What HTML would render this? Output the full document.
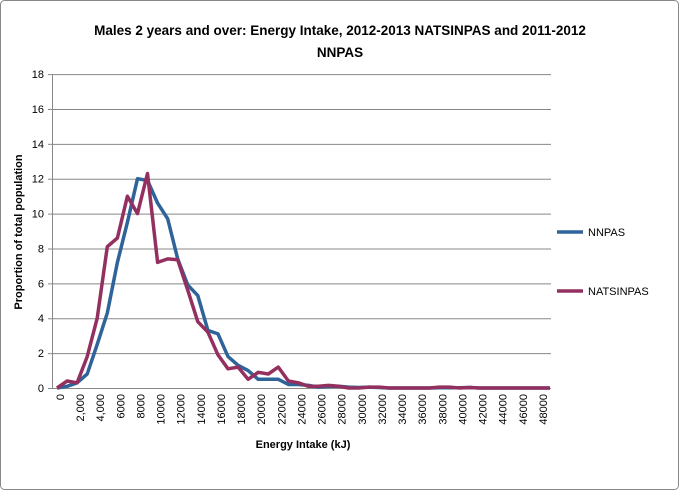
<!DOCTYPE html>
<html><head><meta charset="utf-8"><style>
html,body{margin:0;padding:0;background:#fff;}
svg{display:block;font-family:"Liberation Sans",Arial,sans-serif;}
</style></head><body>
<svg width="679" height="490" viewBox="0 0 679 490" xmlns="http://www.w3.org/2000/svg">
<rect x="0.5" y="0.5" width="678" height="489" rx="4" fill="#fff" stroke="#888"/>
<text x="340" y="35" text-anchor="middle" font-size="13.5" font-weight="bold">Males 2 years and over: Energy Intake, 2012-2013 NATSINPAS and 2011-2012</text>
<text x="340" y="57" text-anchor="middle" font-size="13.5" font-weight="bold">NNPAS</text>
<g id="grid" stroke="#888" stroke-width="1"></g>
<g id="yl" font-size="11" text-anchor="end"></g>
<g id="xl" font-size="11" text-anchor="end"></g>
<line x1="52.5" y1="74" x2="52.5" y2="388" stroke="#888"/>
<line x1="52" y1="388.5" x2="551" y2="388.5" stroke="#888"/>
<polyline id="nn" fill="none" stroke="#2E6499" stroke-width="3.5" stroke-linejoin="round"/>
<polyline id="na" fill="none" stroke="#94305F" stroke-width="3.5" stroke-linejoin="round"/>
<text transform="translate(22,232) rotate(-90)" text-anchor="middle" font-size="11" font-weight="bold">Proportion of total population</text>
<text x="303" y="448" text-anchor="middle" font-size="11" font-weight="bold">Energy Intake (kJ)</text>
<line x1="557" y1="232" x2="583" y2="232" stroke="#2E6499" stroke-width="3.5"/>
<text x="588" y="236" font-size="11">NNPAS</text>
<line x1="557" y1="291" x2="583" y2="291" stroke="#94305F" stroke-width="3.5"/>
<text x="588" y="295" font-size="11">NATSINPAS</text>
</svg>
<script>
var ns="http://www.w3.org/2000/svg";
function Y(v){return 388-v*17.44;}
function X(i){return 57+i*10.06;}
var g=document.getElementById('grid'),yl=document.getElementById('yl'),xl=document.getElementById('xl');
for(var v=0;v<=18;v+=2){
 if(v>0){var l=document.createElementNS(ns,'line');l.setAttribute('x1',52);l.setAttribute('x2',551);l.setAttribute('y1',Y(v)+0.5);l.setAttribute('y2',Y(v)+0.5);g.appendChild(l);}
 var t=document.createElementNS(ns,'text');t.setAttribute('x',44);t.setAttribute('y',Y(v)+4);t.textContent=v;yl.appendChild(t);
 var tk=document.createElementNS(ns,'line');tk.setAttribute('x1',48);tk.setAttribute('x2',52);tk.setAttribute('y1',Y(v)+0.5);tk.setAttribute('y2',Y(v)+0.5);g.appendChild(tk);
}
for(var k=0;k<=24;k++){
 var v=k*2000;var s=(k>=1&&k<=2)?v.toLocaleString('en-US'):(k==2?'4,000':String(v));
 if(k==1)s='2,000';if(k==2)s='4,000';
 var x=X(k*2)+4+3;
 var t=document.createElementNS(ns,'text');t.setAttribute('transform','translate('+x+',394) rotate(-90)');t.textContent=s;xl.appendChild(t);
}
var nn=[0,0.1,0.3,0.8,2.5,4.3,7.2,9.5,12.0,11.9,10.6,9.7,7.4,5.9,5.3,3.3,3.1,1.8,1.3,1.0,0.5,0.5,0.5,0.2,0.2,0.15,0.05,0.1,0.1,0.05,0.03,0.05,0.03,0,0,0,0,0,0.02,0.02,0.02,0.03,0,0,0,0,0,0,0,0];
var na=[0,0.4,0.3,1.8,4.0,8.1,8.6,11.0,10.0,12.3,7.2,7.4,7.35,5.6,3.8,3.2,1.9,1.1,1.2,0.5,0.9,0.8,1.2,0.4,0.3,0.1,0.1,0.15,0.1,0,0,0.05,0.05,0,0,0,0,0,0.05,0.05,0,0.03,0,0,0,0,0,0,0,0];
function pts(a){return a.map(function(v,i){return X(i).toFixed(1)+','+Y(v).toFixed(1);}).join(' ');}
document.getElementById('nn').setAttribute('points',pts(nn));
document.getElementById('na').setAttribute('points',pts(na));
</script>
</body></html>
